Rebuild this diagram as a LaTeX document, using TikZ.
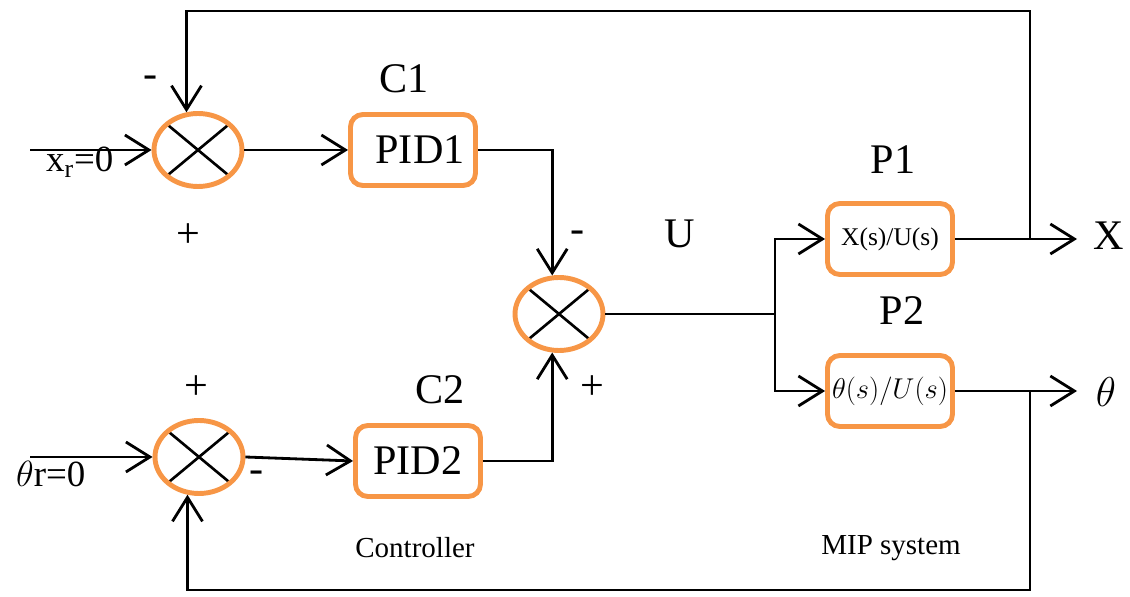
\documentclass[tikz,border=0pt]{standalone}
\usepackage{fontspec}
\setmainfont{Liberation Serif}
\newfontfamily\mipfont{Liberation Serif}
\usetikzlibrary{arrows.meta, positioning, shapes.geometric, calc}
\definecolor{miporange}{HTML}{F79646}
\tikzset{
  >={Straight Barb[length=4.8mm, width=6mm]},
  sumj/.style={ellipse, draw=miporange, line width=2.8pt, minimum width=1.76cm,
               minimum height=1.46cm, inner sep=0pt,
               path picture={\draw[black, line width=1.5pt]
                 (path picture bounding box.north west) -- (path picture bounding box.south east)
                 (path picture bounding box.north east) -- (path picture bounding box.south west);}},
  blk/.style={rectangle, rounded corners=7pt, draw=miporange, line width=2.8pt,
              minimum width=2.5cm, minimum height=1.42cm, align=center, inner sep=2pt},
  sig/.style={->, line width=1.6pt},
  wire/.style={line width=1.6pt},
  txt/.style={font=\mipfont\fontsize{21}{24}\selectfont},
}
\newcommand{\bigt}[1]{\scalebox{1.143}{#1}}
\newcommand{\capt}[1]{\scalebox{0.786}{#1}}
\newcommand{\tft}[1]{\scalebox{0.69}{#1}}

\begin{document}
\begin{tikzpicture}[x=0.02cm, y=-0.02cm]
  \useasboundingbox (0,0) rectangle (1130,597);

  % summing junctions and blocks
  \node[sumj] (sum1) at (198,150) {};
  \node[sumj] (sum2) at (199,457) {};
  \node[sumj] (sum3) at (559,314) {};
  \node[blk, txt] (pid1) at (413,150) {\bigt{\hspace{7pt}PID1}};
  \node[blk, txt] (pid2) at (418,461) {\bigt{PID2}};
  \node[blk, txt] (p1) at (890,239) {\tft{X(s)/U(s)}};
  \node[blk, txt] (p2) at (890,391) {\capt{$\theta(s)/U(s)$}};

  % labels
  \node[txt] (c1) at (404,79) {\bigt{C1}};
  \node[txt] (c2) at (440,390) {\bigt{C2}};
  \node[txt] (pl1) at (893,160) {\bigt{P1}};
  \node[txt] (pl2) at (902,311) {\bigt{P2}};
  \node[txt] (ul) at (680,234) {\bigt{U}};
  \node[txt] (xl) at (1109,236) {\bigt{X}};
  \node[txt] (thl) at (1106,392) {\bigt{$\theta$}};
  \node[txt] (ctl) at (415,548) {\capt{Controller}};
  \node[txt] (mip) at (891,548) {\capt{MIP system}};
  \node[txt, anchor=base west] (xr) at (40,172) {x\textsubscript{r}=0};
  \node[txt, anchor=base west] (thr) at (10,487) {$\theta$r=0};

  % signs
  \node[txt] (s1) at (151,82) {\bigt{-}};
  \node[txt] (s2) at (188,236) {\bigt{+}};
  \node[txt] (s3) at (196,388) {\bigt{+}};
  \node[txt] (s4) at (257,477) {\bigt{-}};
  \node[txt] (s5) at (578,237) {\bigt{-}};
  \node[txt] (s6) at (592,388) {\bigt{+}};

  % helper points
  \coordinate (xin) at (30,150);
  \coordinate (thin) at (30,457);
  \coordinate (jn) at (775,314);
  \coordinate (xj) at (1030,239);
  \coordinate (xend) at (1077,239);
  \coordinate (topr) at (1030,11);
  \coordinate (thj) at (1030,391);
  \coordinate (thend) at (1077,391);
  \coordinate (botr) at (1030,590);

  % forward paths
  \draw[sig] (xin) -- (sum1.west);
  \draw[sig] (thin) -- (sum2.west);
  \draw[sig] (sum1.east) -- (pid1.west);
  \draw[sig] (sum2.east) -- (pid2.west);
  \draw[sig] (pid1.east) -| (sum3.100);
  \draw[sig] (pid2.east) -| (sum3.260);
  \draw[wire] (sum3.east) -- (jn);
  \draw[sig] (jn) |- (p1.west);
  \draw[sig] (jn) |- (p2.west);
  \draw[sig] (p1.east) -- (xend);
  \draw[sig] (p2.east) -- (thend);

  % feedback
  \draw[sig] (xj) -- (topr) -| (sum1.107);
  \draw[sig] (thj) -- (botr) -| (sum2.253);
\end{tikzpicture}
\end{document}
